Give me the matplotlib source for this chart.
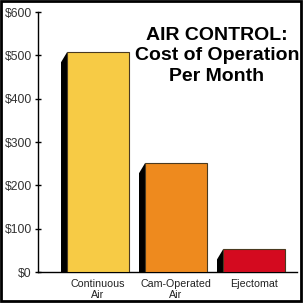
import matplotlib
matplotlib.use("Agg")
import matplotlib.pyplot as plt
from matplotlib.patches import Rectangle

categories = ["Continuous\nAir", "Cam-Operated\nAir", "Ejectomat"]
values = [507, 251, 52]
colors = ["#F7CB45", "#EE8A1E", "#D40A1F"]
yticks = [0, 100, 200, 300, 400, 500, 600]
ytick_labels = ["$0", "$100", "$200", "$300", "$400", "$500", "$600"]
title = "AIR CONTROL:\nCost of Operation\nPer Month"

plt.rcParams['font.family'] = ['Liberation Sans', 'DejaVu Sans']

W, H = 304, 303
fig = plt.figure(figsize=(W / 100, H / 100), dpi=100)
fig.patch.set_facecolor("white")

ax_l, ax_r, ax_t, ax_b = 38, 297, 12, 272
ax = fig.add_axes([ax_l / W, (H - ax_b) / H, (ax_r - ax_l) / W, (ax_b - ax_t) / H])

px_per_unit = 78.0
xl = -60 / px_per_unit
xr = xl + (ax_r - ax_l) / px_per_unit
ax.set_xlim(xl, xr)
ax.set_ylim(0, 600)

bar_w = 62 / px_per_unit
depth = 6 / px_per_unit
drop = 10 * 600 / (ax_b - ax_t)

pos = list(range(len(categories)))
for x, v, c in zip(pos, values, colors):
    x0 = x - bar_w / 2
    ax.fill([x0 - depth, x0 - depth, x0, x0], [0, v - drop, v, 0],
            color="black", lw=0, zorder=2)
ax.bar(pos, values, width=bar_w, color=colors, edgecolor="#4a3a20",
       linewidth=0.8, zorder=3)

for s in ["top", "right"]:
    ax.spines[s].set_visible(False)
ax.spines["left"].set_linewidth(1.0)
ax.spines["bottom"].set_linewidth(1.0)

ax.set_yticks(yticks)
ax.set_yticklabels(ytick_labels, fontsize=8.7, color="#333333")
ax.tick_params(axis="y", direction="inout", length=5, width=1, pad=2)
ax.set_xticks(pos)
ax.set_xticklabels(categories, fontsize=7.7, color="#222222", linespacing=1.15)
ax.tick_params(axis="x", length=0, pad=5)

fig.text(217 / W, 1 - 56 / H, title, ha="center", va="center",
         fontsize=14, fontweight="bold", linespacing=1.25, color="black")

fig.patches.append(Rectangle((1 / W, 2 / H), 300 / W, 300 / H,
                             transform=fig.transFigure, fill=False,
                             edgecolor="black", linewidth=2, zorder=10))

fig.savefig("out.png", dpi=100, facecolor="white")
